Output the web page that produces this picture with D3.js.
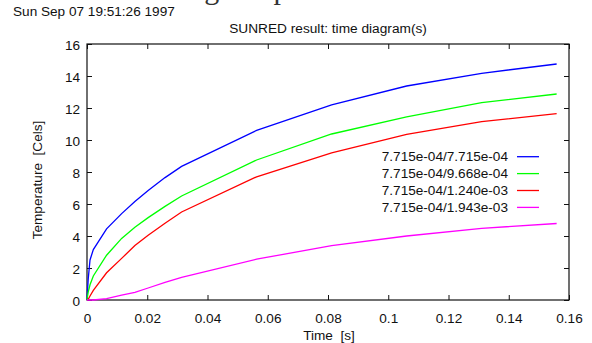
<!DOCTYPE html>
<html>
<head>
<meta charset="utf-8">
<script src="https://cdn.jsdelivr.net/npm/d3@7"></script>
<style>
  body { margin: 0; background: #fff; }
  svg { display: block; }
  text { font-family: "Liberation Sans", Arial, sans-serif; fill: #111; }
</style>
</head>
<body>
<svg id="chart" width="592" height="343"></svg>
<script>
// time samples [s]
const times = [0, 0.0004, 0.001, 0.0021, 0.0065, 0.0115, 0.0159, 0.0203, 0.0259, 0.0314, 0.0563, 0.0812, 0.1061, 0.1310, 0.1559];

// temperatures [Cels], one array per curve
const temp1 = [0, 1.3, 2.5, 3.15, 4.45, 5.4, 6.15, 6.85, 7.65, 8.35, 10.6, 12.2, 13.375, 14.17, 14.75];
const temp2 = [0, 0.5, 0.95, 1.5, 2.8, 3.85, 4.55, 5.15, 5.85, 6.5, 8.75, 10.375, 11.45, 12.33, 12.875];
const temp3 = [0, 0.05, 0.25, 0.6, 1.7, 2.6, 3.4, 4.05, 4.8, 5.5, 7.7, 9.2, 10.35, 11.15, 11.65];
const temp4 = [0, 0, 0, 0, 0.09, 0.3, 0.48, 0.75, 1.1, 1.42, 2.55, 3.4, 4.0, 4.48, 4.78];

const seriesNames = ["7.715e-04/7.715e-04", "7.715e-04/9.668e-04", "7.715e-04/1.240e-03", "7.715e-04/1.943e-03"];
const seriesColors = ["#0000ff", "#00ff00", "#ff0000", "#ff00ff"];

const xTicks = [0, 0.02, 0.04, 0.06, 0.08, 0.1, 0.12, 0.14, 0.16];
const yTicks = [0, 2, 4, 6, 8, 10, 12, 14, 16];

const svg = d3.select("#chart");
const margin = { left: 87, right: 23, top: 44, bottom: 43 };
const width = 592 - margin.left - margin.right;
const height = 343 - margin.top - margin.bottom;

// caption of the page above, cut off at the top
svg.append("text")
    .attr("x", -19).attr("y", -1)
    .style("font-family", "'Liberation Serif', 'Times New Roman', serif")
    .style("font-size", "30px")
    .style("fill", "#333")
    .text("ults in the time diagram presented for the locations");

svg.append("text")
    .attr("x", 13).attr("y", 15.7)
    .style("font-size", "13.6px")
    .text("Sun Sep 07 19:51:26 1997");

const g = svg.append("g").attr("transform", `translate(${margin.left},${margin.top})`);

const x = d3.scaleLinear().domain([0, 0.16]).range([0, width]);
const y = d3.scaleLinear().domain([0, 16]).range([height, 0]);

g.append("text")
    .attr("x", width / 2).attr("y", -11)
    .attr("text-anchor", "middle")
    .style("font-size", "13.7px")
    .text("SUNRED result: time diagram(s)");

// axes, ticks pointing inwards
const fmt = d => String(+d.toFixed(2));
g.append("g").attr("transform", `translate(0,${height})`)
    .call(d3.axisBottom(x).tickValues(xTicks).tickSize(-5).tickPadding(13).tickFormat(fmt));
g.append("g")
    .call(d3.axisTop(x).tickValues(xTicks).tickSize(-5).tickFormat(""));
g.append("g")
    .call(d3.axisLeft(y).tickValues(yTicks).tickSize(-5).tickPadding(7));
g.append("g").attr("transform", `translate(${width},0)`)
    .call(d3.axisRight(y).tickValues(yTicks).tickSize(-5).tickFormat(""));

g.selectAll(".domain").remove();
g.selectAll(".tick line").attr("stroke", "#111");
g.selectAll(".tick text")
    .style("font-family", "'Liberation Sans', Arial, sans-serif")
    .style("font-size", "13.6px")
    .attr("fill", "#111");
g.selectAll(".tick text").filter(function () { return this.parentNode.parentNode.getAttribute("transform") == null; })
    .attr("dy", "0.42em");

g.append("rect")
    .attr("width", width).attr("height", height)
    .attr("fill", "none").attr("stroke", "#111").attr("stroke-width", 1.2);

// axis titles
g.append("text")
    .attr("transform", `translate(-45,${height / 2 + 8}) rotate(-90)`)
    .attr("text-anchor", "middle")
    .style("font-size", "13.6px")
    .style("white-space", "pre")
    .text("Temperature  [Cels]");
g.append("text")
    .attr("x", 242).attr("y", height + 40)
    .attr("text-anchor", "middle")
    .style("font-size", "13.6px")
    .style("white-space", "pre")
    .text("Time  [s]");

// curves
const series = [temp1, temp2, temp3, temp4];
const line = d3.line().x((d, i) => x(times[i])).y(d => y(d));
g.selectAll("path.curve")
    .data(series)
    .enter()
    .append("path")
    .attr("class", "curve")
    .attr("d", line)
    .attr("fill", "none")
    .attr("stroke", (d, i) => seriesColors[i])
    .attr("stroke-width", 1.3);

// legend
const leg = g.selectAll("g.leg")
    .data(seriesNames)
    .enter()
    .append("g")
    .attr("class", "leg")
    .attr("transform", (d, i) => `translate(0,${112.7 + i * 16.9})`);
leg.append("text")
    .attr("x", 421).attr("dy", "0.35em")
    .attr("text-anchor", "end")
    .style("font-size", "13.6px")
    .text(d => d);
leg.append("line")
    .attr("x1", 430).attr("x2", 452)
    .attr("stroke", (d, i) => seriesColors[i])
    .attr("stroke-width", 1.3);
</script>
</body>
</html>
